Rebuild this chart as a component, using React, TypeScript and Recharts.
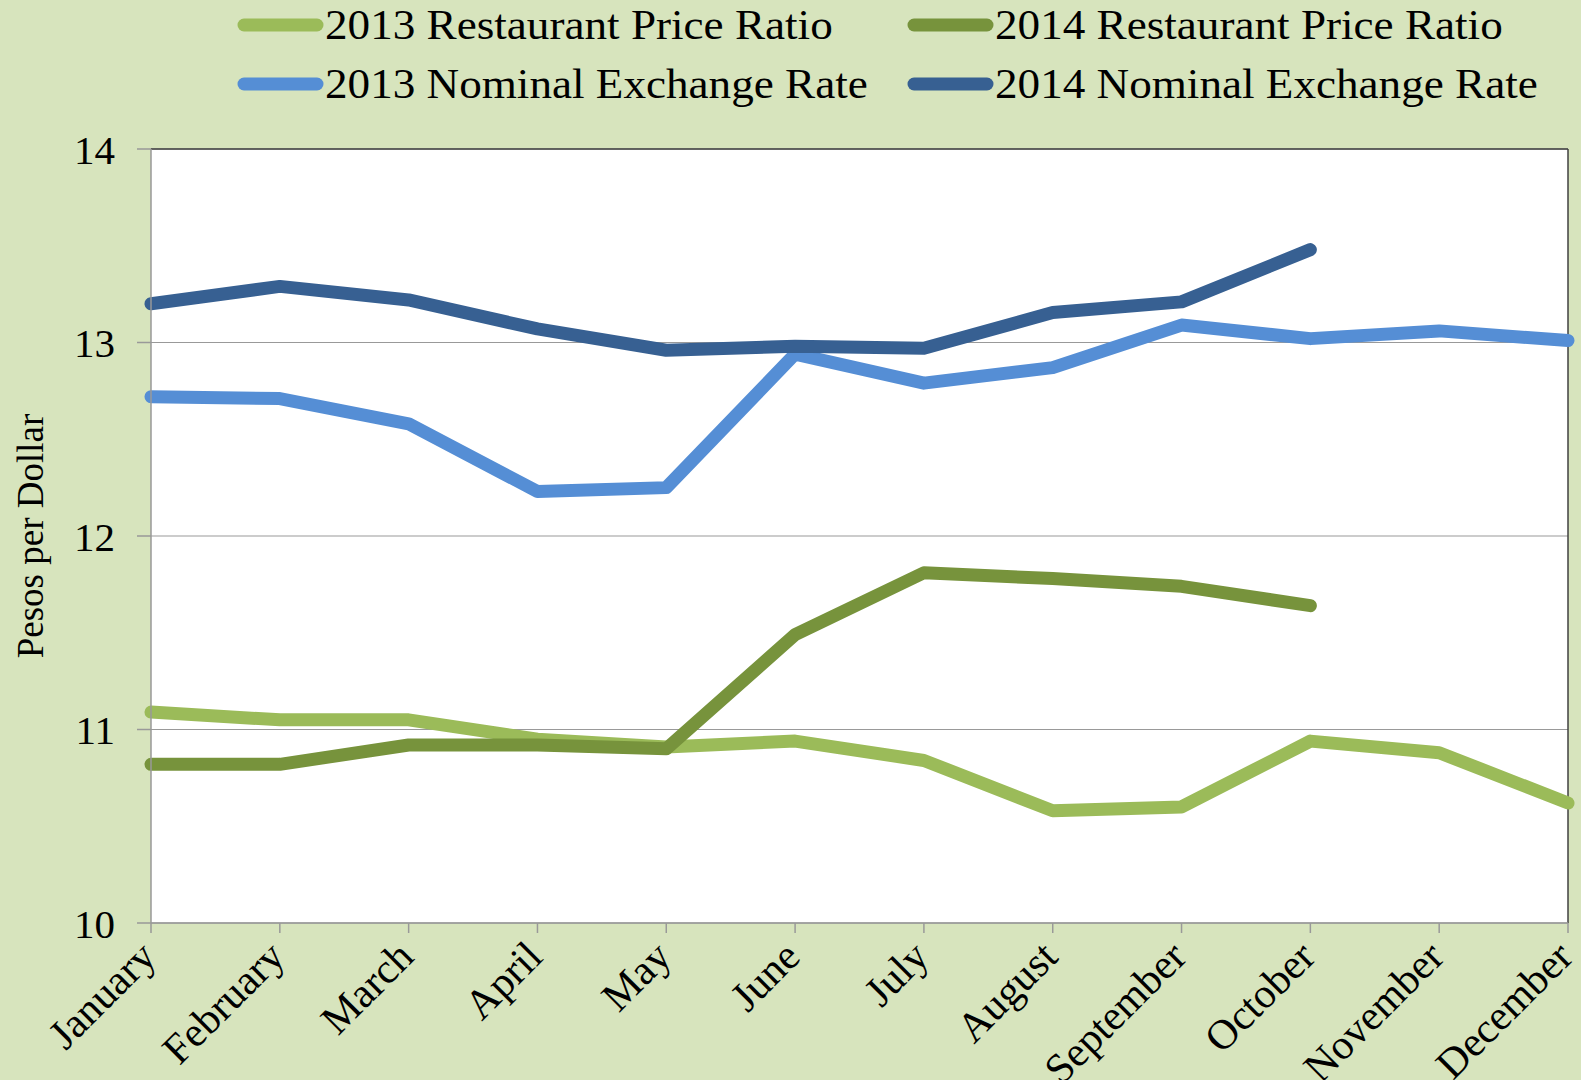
import { LineChart, Line, XAxis, YAxis, CartesianGrid, ReferenceLine } from "recharts";

const months = ["January", "February", "March", "April", "May", "June", "July", "August", "September", "October", "November", "December"];

// pesos per dollar (2014 stops at October)
const ratio2013 = [11.09, 11.05, 11.05, 10.95, 10.91, 10.94, 10.84, 10.58, 10.6, 10.94, 10.88, 10.62];
const ratio2014 = [10.82, 10.82, 10.92, 10.92, 10.9, 11.49, 11.81, 11.78, 11.74, 11.64, null, null];
const rate2013 = [12.72, 12.71, 12.58, 12.23, 12.25, 12.94, 12.79, 12.87, 13.09, 13.02, 13.06, 13.01];
const rate2014 = [13.2, 13.29, 13.22, 13.07, 12.96, 12.98, 12.97, 13.155, 13.21, 13.48, null, null];

const yTicks = [10, 11, 12, 13, 14];

const series = [
  { key: "ratio2013", name: "2013 Restaurant Price Ratio", color: "#9BBB59" },
  { key: "rate2013", name: "2013 Nominal Exchange Rate", color: "#558ED5" },
  { key: "ratio2014", name: "2014 Restaurant Price Ratio", color: "#77933C" },
  { key: "rate2014", name: "2014 Nominal Exchange Rate", color: "#376092" },
];

const data = months.map((m, i) => ({
  month: m,
  ratio2013: ratio2013[i],
  ratio2014: ratio2014[i],
  rate2013: rate2013[i],
  rate2014: rate2014[i],
}));

const FONT = '"Liberation Serif", "Times New Roman", serif';
const BG = "#D7E4BD";

// legend slots: 2013 on the left column, 2014 on the right
const legendSlots = [
  { key: "ratio2013", x: 237, y: 25 },
  { key: "ratio2014", x: 907, y: 25 },
  { key: "rate2013", x: 237, y: 84 },
  { key: "rate2014", x: 907, y: 84 },
];

function MonthTick(props: any) {
  const { x, y, payload } = props;
  const ax = x + 7;
  const ay = y + 24;
  return (
    <text
      x={ax}
      y={ay}
      textAnchor="end"
      transform={`rotate(-45 ${ax} ${ay})`}
      fontFamily={FONT}
      fontSize={42}
      fill="#000"
    >
      {payload.value}
    </text>
  );
}

function YTitle(props: any) {
  const vb = props.viewBox || {};
  const cx = 43;
  const cy = (vb.y ?? 149) + (vb.height ?? 774) / 2;
  return (
    <text
      x={cx}
      y={cy}
      textAnchor="middle"
      transform={`rotate(-90 ${cx} ${cy})`}
      fontFamily={FONT}
      fontSize={37}
      fill="#000"
    >
      Pesos per Dollar
    </text>
  );
}

export default function App() {
  return (
    <div style={{ position: "absolute", left: 0, top: 0, width: 1581, height: 1080, background: BG }}>
      <LineChart
        width={1581}
        height={1080}
        data={data}
        margin={{ top: 149, right: 13, bottom: 0, left: 0 }}
      >
        <CartesianGrid horizontal vertical={false} fill="#fff" stroke="#999" strokeWidth={1.2} />
        <XAxis
          dataKey="month"
          interval={0}
          height={157}
          tickSize={10}
          stroke="#999"
          axisLine={{ stroke: "#999", strokeWidth: 1.5 }}
          tickLine={{ stroke: "#999", strokeWidth: 1.5 }}
          tick={<MonthTick />}
        />
        <YAxis
          width={151}
          domain={[10, 14]}
          ticks={yTicks}
          interval={0}
          tickSize={14}
          tickMargin={22}
          axisLine={{ stroke: "#999", strokeWidth: 1.5 }}
          tickLine={{ stroke: "#999", strokeWidth: 1.5 }}
          tick={{ fontFamily: FONT, fontSize: 41, fill: "#000" }}
          label={<YTitle />}
        />
        <ReferenceLine y={14} stroke="#404040" strokeWidth={1.5} />
        <ReferenceLine x="December" stroke="#404040" strokeWidth={1.5} />
        {series.map((s) => (
          <Line
            key={s.key}
            dataKey={s.key}
            name={s.name}
            type="linear"
            stroke={s.color}
            strokeWidth={13}
            strokeLinecap="round"
            strokeLinejoin="round"
            dot={false}
            activeDot={false}
            connectNulls={false}
            isAnimationActive={false}
          />
        ))}
      </LineChart>
      <svg width={1581} height={120} style={{ position: "absolute", left: 0, top: 0 }}>
        {legendSlots.map((slot) => {
          const s = series.find((q) => q.key === slot.key)!;
          return (
            <g key={slot.key}>
              <line
                x1={slot.x + 7}
                x2={slot.x + 80}
                y1={slot.y}
                y2={slot.y}
                stroke={s.color}
                strokeWidth={13}
                strokeLinecap="round"
              />
              <text
                transform={`translate(${slot.x + 88} ${slot.y + 14}) scale(1.05 1)`}
                fontFamily={FONT}
                fontSize={43}
                fill="#000"
              >
                {s.name}
              </text>
            </g>
          );
        })}
      </svg>
    </div>
  );
}
